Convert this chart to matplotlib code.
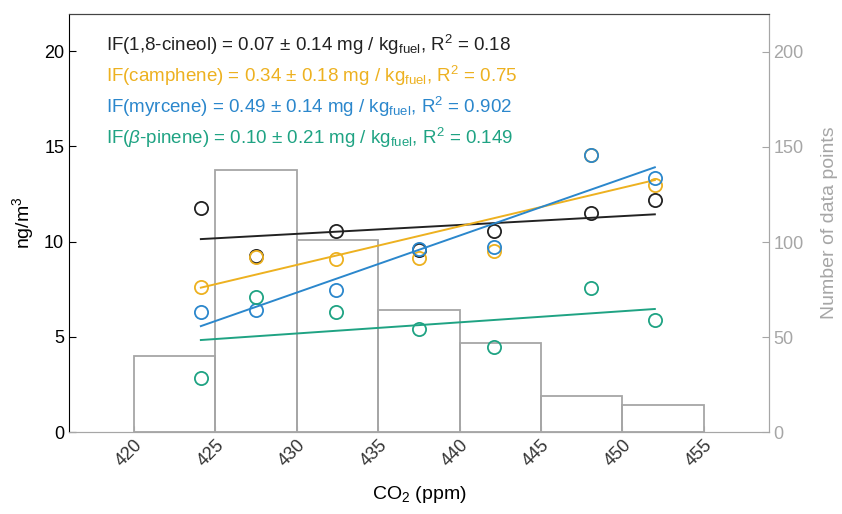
import matplotlib
matplotlib.use('Agg')
import matplotlib.pyplot as plt

plt.rcParams['font.family'] = ['Liberation Sans', 'DejaVu Sans']
plt.rcParams['mathtext.fontset'] = 'custom'
plt.rcParams['mathtext.rm'] = 'Liberation Sans'
plt.rcParams['mathtext.it'] = 'Liberation Sans:italic'

# CO2 bin centres of the averaged concentrations
co2 = [424.1, 427.5, 432.4, 437.5, 442.1, 448.1, 452.0]

cineol = [11.78, 9.24, 10.57, 9.55, 10.55, 11.48, 12.2]
camphene = [7.6, 9.17, 9.06, 9.12, 9.52, 14.56, 12.97]
myrcene = [6.28, 6.39, 7.44, 9.59, 9.73, 14.56, 13.32]
pinene = [2.82, 7.07, 6.28, 5.39, 4.45, 7.58, 5.88]

# fitted lines, value at first and last CO2 bin
fit_x = [424.1, 452.0]
cineol_fit = [10.13, 11.43]
camphene_fit = [7.58, 13.23]
myrcene_fit = [5.56, 13.9]
pinene_fit = [4.83, 6.46]

# histogram of CO2 observations
hist_left = [420, 425, 430, 435, 440, 445, 450]
hist_counts = [40, 138, 101, 64, 47, 19, 14]

labels = [
    r'IF(1,8-cineol) = 0.07 ± 0.14 mg / kg$_{\mathrm{fuel}}$, R$^{2}$ = 0.18',
    r'IF(camphene) = 0.34 ± 0.18 mg / kg$_{\mathrm{fuel}}$, R$^{2}$ = 0.75',
    r'IF(myrcene) = 0.49 ± 0.14 mg / kg$_{\mathrm{fuel}}$, R$^{2}$ = 0.902',
    r'IF($\beta$-pinene) = 0.10 ± 0.21 mg / kg$_{\mathrm{fuel}}$, R$^{2}$ = 0.149',
]

c_black = '#222222'
c_orange = '#EDB120'
c_blue = '#2B87CC'
c_green = '#1FA383'
c_gray = '#A6A6A6'

fig = plt.figure(figsize=(8.42, 5.14), dpi=100)
ax = fig.add_axes([0.082, 0.1595, 0.831, 0.8133])
ax2 = ax.twinx()

ax2.bar(hist_left, hist_counts, width=5, align='edge', fill=False,
        edgecolor=c_gray, linewidth=1.3)
ax2.set_ylim(0, 220)
ax2.set_yticks([0, 50, 100, 150, 200])
ax2.set_ylabel('Number of data points', color=c_gray, fontsize=14, labelpad=12)
ax2.tick_params(axis='y', direction='in', colors=c_gray, labelsize=13, length=5)

ax.set_zorder(ax2.get_zorder() + 1)
ax.patch.set_visible(False)

series = [(cineol, cineol_fit, c_black), (camphene, camphene_fit, c_orange),
          (myrcene, myrcene_fit, c_blue), (pinene, pinene_fit, c_green)]
for vals, fit, col in series:
    ax.plot(co2, vals, 'o', mfc='none', mec=col, ms=9.5, mew=1.3)
    ax.plot(fit_x, fit, '-', color=col, lw=1.4)

for i, (txt, (_, _, col)) in enumerate(zip(labels, series)):
    ax.text(0.053, 0.925 - i * 0.0735, txt, transform=ax.transAxes,
            color=col, fontsize=13.5, va='center')

ax.set_xlim(416, 459)
ax.set_ylim(0, 21.95)
ax.set_xticks(range(420, 456, 5))
ax.set_yticks([0, 5, 10, 15, 20])
ax.tick_params(axis='x', direction='in', labelsize=13, length=4,
               labelrotation=45, colors=c_gray, labelcolor='#333333')
ax.tick_params(axis='y', direction='in', labelsize=13, length=5)
for lab in ax.get_xticklabels():
    lab.set_ha('right')
    lab.set_rotation_mode('anchor')
ax.set_ylabel('ng/m$^{3}$', fontsize=14, labelpad=6)
ax.set_xlabel('CO$_{2}$ (ppm)', fontsize=14, labelpad=10)

ax.spines['left'].set_color('black')
ax.spines['top'].set_color('#444444')
ax.spines['bottom'].set_color(c_gray)
ax.spines['right'].set_color(c_gray)
ax2.spines['right'].set_color(c_gray)
ax2.spines['bottom'].set_color(c_gray)
ax2.spines['left'].set_visible(False)
ax2.spines['top'].set_color('#444444')

fig.savefig('out.png', dpi=100)
